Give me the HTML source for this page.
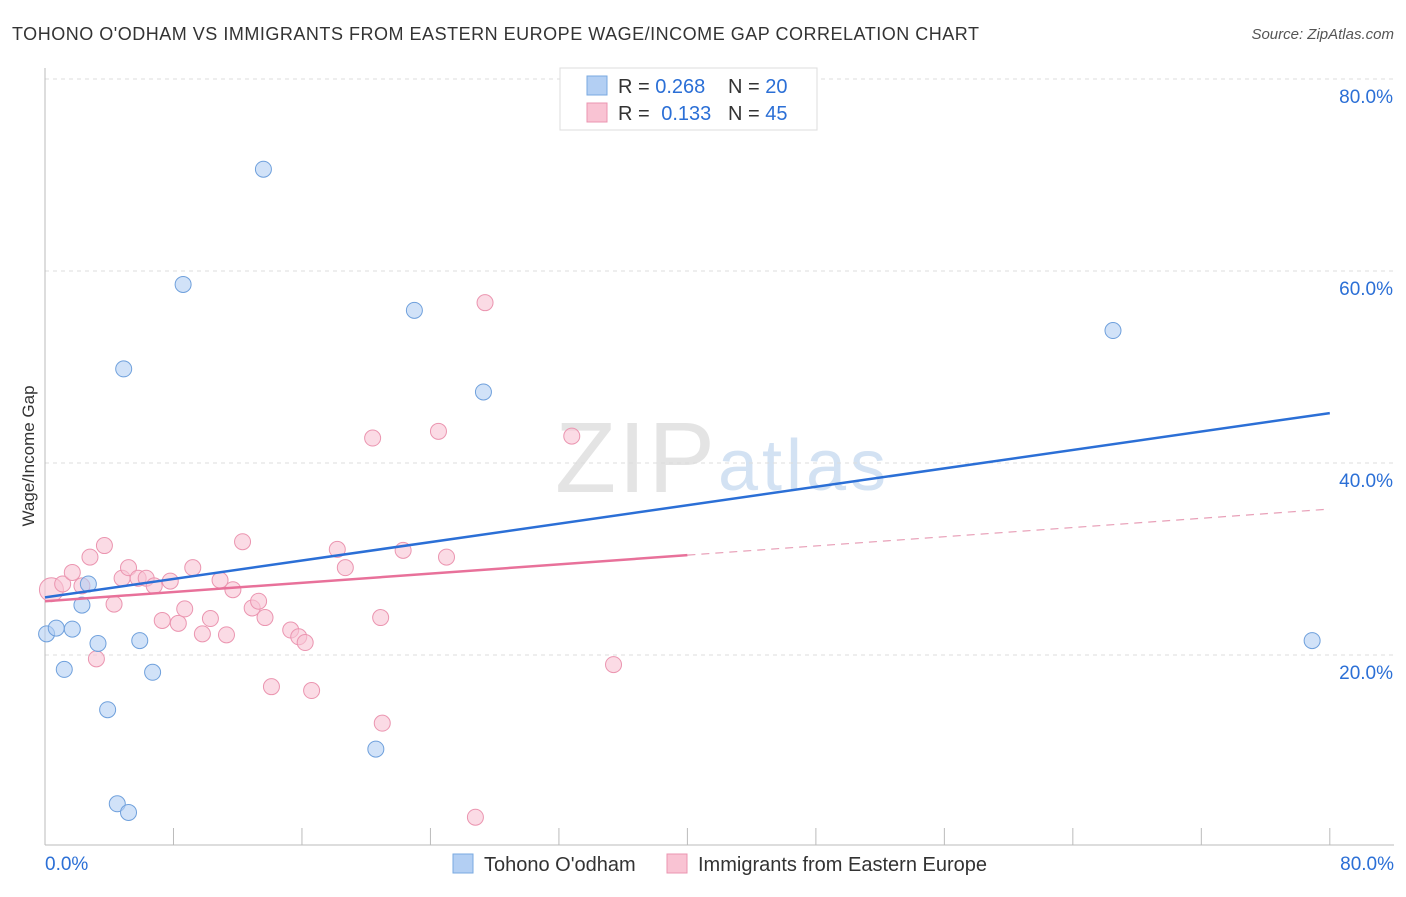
<!DOCTYPE html>
<html><head><meta charset="utf-8"><style>
body{margin:0;background:#fff;font-family:"Liberation Sans",sans-serif;}
svg text{font-family:"Liberation Sans",sans-serif;}
</style></head><body>
<svg id="chart" width="1406" height="892" xmlns="http://www.w3.org/2000/svg">
<text x="12" y="40" font-size="18" fill="#333" textLength="967" lengthAdjust="spacing">TOHONO O'ODHAM VS IMMIGRANTS FROM EASTERN EUROPE WAGE/INCOME GAP CORRELATION CHART</text>
<text x="1394" y="39" font-size="15" fill="#555" text-anchor="end" font-style="italic">Source: ZipAtlas.com</text>
<text x="555" y="492" font-size="100" fill="#e4e4e4" font-family="Liberation Serif" textLength="160">ZIP</text>
<text x="718" y="490" font-size="72" fill="#d3e2f3" textLength="168">atlas</text>
<g id="grid"></g>
<g id="axes"></g>
<g id="marks"></g>
<text transform="translate(34,456) rotate(-90)" font-size="17" fill="#333" text-anchor="middle">Wage/Income Gap</text>
<g>
<rect x="560" y="68" width="257" height="62" fill="#fff" stroke="#ddd"/>
<rect x="587" y="76" width="20" height="19" fill="#b3cff3" stroke="#7aaae0"/>
<rect x="587" y="103" width="20" height="19" fill="#f9c3d3" stroke="#eb95b0"/>
<text x="618" y="93" font-size="20" fill="#333">R = <tspan fill="#2b6fd6">0.268</tspan></text>
<text x="728" y="93" font-size="20" fill="#333">N = <tspan fill="#2b6fd6">20</tspan></text>
<text x="618" y="120" font-size="20" fill="#333">R = <tspan fill="#2b6fd6" dx="6">0.133</tspan></text>
<text x="728" y="120" font-size="20" fill="#333">N = <tspan fill="#2b6fd6">45</tspan></text>
</g>
<g>
<rect x="453" y="854" width="20" height="19" fill="#b3cff3" stroke="#7aaae0"/>
<text x="484" y="871" font-size="20" fill="#333">Tohono O'odham</text>
<rect x="667" y="854" width="20" height="19" fill="#f9c3d3" stroke="#eb95b0"/>
<text x="698" y="871" font-size="20" fill="#333">Immigrants from Eastern Europe</text>
</g>
</svg>
<script>
const yTicks=[20,40,60,80];
const yTickLabels=["20.0%","40.0%","60.0%","80.0%"];
const xTickLabels=["0.0%","80.0%"];
const blueX=[0.1,0.7,1.7,1.2,2.3,2.7,3.3,3.9,4.5,5.2,4.9,5.9,6.7,8.6,13.6,20.6,23.0,27.3,66.5,78.9];
const blueY=[22.2,22.8,22.7,18.5,25.2,27.4,21.2,14.3,4.5,3.6,49.8,21.5,18.2,58.6,70.6,10.2,55.9,47.4,53.8,21.5];
const pinkX=[0.4,1.1,1.7,2.3,2.8,3.2,3.7,4.3,4.8,5.2,5.8,6.3,6.8,7.3,7.8,8.3,8.7,9.2,9.8,10.3,10.9,11.3,11.7,12.3,12.9,13.3,13.7,14.1,15.3,15.8,16.2,16.6,18.2,18.7,20.4,20.9,21.0,22.3,24.5,25.0,26.8,27.4,32.8,35.4];
const pinkY=[26.8,27.4,28.6,27.2,30.2,19.6,31.4,25.3,28.0,29.1,28.0,28.0,27.2,23.6,27.7,23.3,24.8,29.1,22.2,23.8,27.8,22.1,26.8,31.8,24.9,25.6,23.9,16.7,22.6,21.9,21.3,16.3,31.0,29.1,42.6,23.9,12.9,30.9,43.3,30.2,3.1,56.7,42.8,19.0];
const blueTrend=[26.0,45.2];
const pinkTrend=[25.6,35.2];
const X=v=>45+v*16.06, Y=v=>847-v*9.6;
const NS="http://www.w3.org/2000/svg";
function mk(p,t,a){const e=document.createElementNS(NS,t);for(const k in a)e.setAttribute(k,a[k]);p.appendChild(e);return e;}
const grid=document.getElementById('grid'),axes=document.getElementById('axes'),marks=document.getElementById('marks');
yTicks.forEach((t,i)=>{
 const l=mk(grid,'line',{x1:45,x2:1394,y1:Y(t),y2:Y(t),stroke:'#ddd','stroke-dasharray':'4,4'});
 
 
 const tx=mk(axes,'text',{x:1393,y:Y(t)+24,'font-size':19,fill:'#2b6fd6','text-anchor':'end'});
 tx.textContent=yTickLabels[i];
 
 
});
mk(axes,'line',{x1:45,x2:45,y1:68,y2:845,stroke:'#bbb'});
mk(axes,'line',{x1:45,x2:1394,y1:845,y2:845,stroke:'#bbb'});
for(let i=0;i<=10;i++){const l=mk(axes,'line',{x1:X(i*8),x2:X(i*8),y1:828,y2:845,stroke:'#bbb'});
 
 }
[[0,'start',45],[1,'end',1394]].forEach(([i,a,x])=>{const t=mk(axes,'text',{x:x,y:870,'font-size':19,fill:'#2b6fd6','text-anchor':a});t.textContent=xTickLabels[i];
 
 });
pinkX.forEach((x,i)=>{const c=mk(marks,'circle',{cx:X(x),cy:Y(pinkY[i]),r:i==0?12:8,fill:'#f9c3d3','fill-opacity':0.6,stroke:'#eb95b0','stroke-width':1});
 
 });
blueX.forEach((x,i)=>{const c=mk(marks,'circle',{cx:X(x),cy:Y(blueY[i]),r:8,fill:'#b3cff3','fill-opacity':0.6,stroke:'#6fa0dc','stroke-width':1});
 
 });
const pm=pinkTrend[0]+(pinkTrend[1]-pinkTrend[0])*0.5;
const pl=mk(marks,'line',{x1:X(0),y1:Y(pinkTrend[0]),x2:X(40),y2:Y(pm),stroke:'#e8719a','stroke-width':2.5});


const pd=mk(marks,'line',{x1:X(40),y1:Y(pm),x2:X(80),y2:Y(pinkTrend[1]),stroke:'#e8a0b8','stroke-width':1.2,'stroke-dasharray':'8,6'});


const bl=mk(marks,'line',{x1:X(0),y1:Y(blueTrend[0]),x2:X(80),y2:Y(blueTrend[1]),stroke:'#2b6fd6','stroke-width':2.5});


</script>
</body></html>
